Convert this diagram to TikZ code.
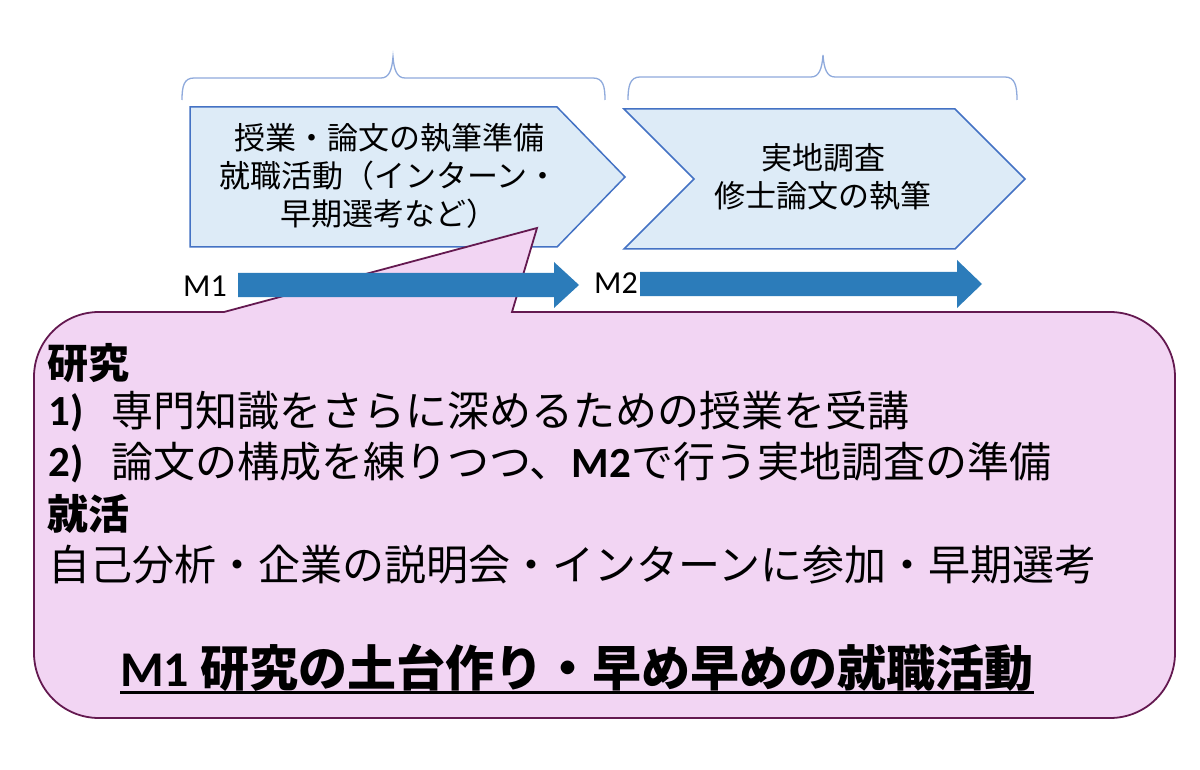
\documentclass[tikz,border=0pt]{standalone}
\usepackage{fontspec}
\newfontfamily\jp{Noto Sans CJK JP}
\newfontfamily\lat{Carlito}
\definecolor{chevfill}{RGB}{221,235,247}
\definecolor{chevline}{RGB}{68,114,196}
\definecolor{bracecol}{RGB}{143,170,220}
\definecolor{arrowcol}{RGB}{44,124,186}
\definecolor{callfill}{RGB}{242,213,243}
\definecolor{callline}{RGB}{100,25,80}
\tikzset{
  chev/.style={draw=chevline, fill=chevfill, line width=1.5pt, line join=miter},
  bracestyle/.style={draw=bracecol, line width=1.3pt},
  blockarrow/.style={fill=arrowcol, draw=none},
  callout/.style={draw=callline, fill=callfill, line width=1.8pt},
  boxtxt/.style={inner sep=0pt, anchor=base, font=\jp\fontsize{31}{38}\selectfont},
  bodytxt/.style={inner sep=0pt, anchor=base west, font=\jp\fontsize{42}{50}\selectfont},
  numtxt/.style={inner sep=0pt, anchor=base west, font=\lat\bfseries\fontsize{43}{50}\selectfont},
  headtxt/.style={inner sep=0pt, anchor=base west, font=\jp\bfseries\fontsize{41}{48}\selectfont},
  mlabel/.style={inner sep=0pt, anchor=base west, font=\lat\fontsize{32}{36}\selectfont},
}
\begin{document}
\begin{tikzpicture}[x=1pt,y=-1pt]
\useasboundingbox (0,0) rectangle (1200,770);
\fill[white] (0,0) rectangle (1200,770);

% braces
\draw[bracestyle] (182,100) .. controls (182,86) and (184,78) .. (194,78) -- (381,78)
  .. controls (389,78) and (392,70) .. (393,57) .. controls (394,70) and (397,78) .. (405,78)
  -- (593,78) .. controls (603,78) and (605,86) .. (605,100);
\draw[bracestyle] (628,100) .. controls (628,86) and (630,77) .. (640,77) -- (811,77)
  .. controls (819,77) and (822,69) .. (823,55) .. controls (824,69) and (827,77) .. (835,77)
  -- (1005,77) .. controls (1015,77) and (1017,86) .. (1017,100);

% chevrons
\draw[chev] (190,107) -- (557,107) -- (625,177) -- (557,247) -- (190,247) -- cycle;
\draw[chev] (624,109) -- (955,109) -- (1025,179) -- (955,249) -- (624,249) -- (694,179) -- cycle;

% callout
\draw[callout] (224,312) -- (537,228) -- (512,312) -- (1110,312)
  .. controls (1146,312) and (1175,341) .. (1175,377) -- (1175,653)
  .. controls (1175,689) and (1146,718) .. (1110,718) -- (99,718)
  .. controls (63,718) and (34,689) .. (34,653) -- (34,377)
  .. controls (34,341) and (63,312) .. (99,312) -- cycle;

% block arrows
\fill[blockarrow] (238,273) -- (554,273) -- (554,262) -- (579,285) -- (554,308) -- (554,297) -- (238,297) -- cycle;
\fill[blockarrow] (640,272) -- (957,272) -- (957,260) -- (982,284) -- (957,308) -- (957,296) -- (640,296) -- cycle;

% labels
\node[mlabel] (m1) at (183,296) {M1};
\node[mlabel] (m2) at (594,294) {M2};

% chevron texts
\node[boxtxt] (b1a) at (389,150) {授業・論文の執筆準備};
\node[boxtxt] (b1b) at (389,188) {就職活動（インターン・};
\node[boxtxt] (b1c) at (389,226) {早期選考など）};
\node[boxtxt] (b2a) at (823,170) {実地調査};
\node[boxtxt] (b2b) at (823,208) {修士論文の執筆};

% callout texts
\node[headtxt] (h1) at (47,378) {研究};
\node[numtxt] (n1) at (48,425) {1)};
\node[bodytxt] (t1) at (111,426) {専門知識をさらに深めるための授業を受講};
\node[numtxt] (n2) at (48,476) {2)};
\node[bodytxt] (t2) at (111,477) {論文の構成を練りつつ、{\lat\bfseries\fontsize{43}{50}\selectfont M2}で行う実地調査の準備};
\node[headtxt] (h2) at (47,529) {就活};
\node[bodytxt] (t3) at (48,580) {自己分析・企業の説明会・インターンに参加・早期選考};

% title
\node[inner sep=0pt, anchor=base west] (title) at (120,686)
  {{\lat\bfseries\fontsize{50}{56}\selectfont M1 }{\jp\bfseries\fontsize{49}{56}\selectfont 研究の土台作り・早め早めの就職活動}};
\draw[line width=3pt] ([yshift=-6pt]title.base west) -- ([yshift=-6pt]title.base east);
\end{tikzpicture}
\end{document}
